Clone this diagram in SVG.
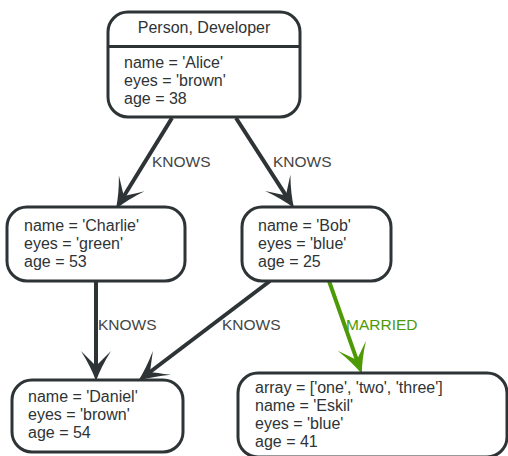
<svg xmlns="http://www.w3.org/2000/svg" width="508" height="456" viewBox="0 0 508 456">
  <style>
    .node { fill: #ffffff; stroke: #2e3436; stroke-width: 3; }
    .txt { font-family: "Liberation Sans", Arial, sans-serif; font-size: 16px; fill: #2e3436; }
    .lbl { font-family: "Liberation Sans", Arial, sans-serif; font-size: 15.5px; fill: #444444; }
    .lbl.green { fill: #4e9a06; }
    .edge { fill: none; stroke: #2e3436; stroke-width: 4; }
    .edge.green { stroke: #4e9a06; }
  </style>
  <defs>
    <marker id="arrow" markerUnits="userSpaceOnUse" viewBox="-32 -17 44 34" markerWidth="44" markerHeight="34" refX="-10" refY="0" orient="auto" overflow="visible">
      <path d="M0,0 Q-14,-5 -30,-15 Q-19,-4 -15,0 Q-19,4 -30,15 Q-14,5 0,0 Z" fill="#2e3436"/>
    </marker>
    <marker id="arrow-green" markerUnits="userSpaceOnUse" viewBox="-32 -17 44 34" markerWidth="44" markerHeight="34" refX="-10" refY="0" orient="auto" overflow="visible">
      <path d="M0,0 Q-14,-5 -30,-15 Q-19,-4 -15,0 Q-19,4 -30,15 Q-14,5 0,0 Z" fill="#4e9a06"/>
    </marker>
  </defs>

  <!-- relationships -->
  <g id="edges">
    <path class="edge" d="M172,118 L121.2,200.5" marker-end="url(#arrow)"/>
    <path class="edge" d="M236,118 L288.6,199.6" marker-end="url(#arrow)"/>
    <path class="edge" d="M96,281 L96,371" marker-end="url(#arrow)"/>
    <path class="edge" d="M270,281 L146,375" marker-end="url(#arrow)"/>
    <path class="edge green" d="M329,281 L358.5,364.6" marker-end="url(#arrow-green)"/>
    <text class="lbl" x="152" y="167">KNOWS</text>
    <text class="lbl" x="273" y="167">KNOWS</text>
    <text class="lbl" x="98" y="330">KNOWS</text>
    <text class="lbl" x="222" y="330">KNOWS</text>
    <text class="lbl green" x="346" y="330">MARRIED</text>
  </g>

  <!-- nodes -->
  <g id="alice">
    <rect class="node" x="108" y="12" width="192" height="105" rx="20"/>
    <line x1="108" y1="46.5" x2="300" y2="46.5" stroke="#2e3436" stroke-width="3"/>
    <text class="txt" x="204" y="33" text-anchor="middle">Person, Developer</text>
    <text class="txt" x="124" y="68">name = 'Alice'</text>
    <text class="txt" x="124" y="86">eyes = 'brown'</text>
    <text class="txt" x="124" y="104">age = 38</text>
  </g>

  <g id="charlie">
    <rect class="node" x="7" y="207" width="178" height="74" rx="20"/>
    <text class="txt" x="24" y="231">name = 'Charlie'</text>
    <text class="txt" x="24" y="249">eyes = 'green'</text>
    <text class="txt" x="24" y="267">age = 53</text>
  </g>

  <g id="bob">
    <rect class="node" x="242" y="207" width="149" height="74" rx="20"/>
    <text class="txt" x="258" y="231">name = 'Bob'</text>
    <text class="txt" x="258" y="249">eyes = 'blue'</text>
    <text class="txt" x="258" y="267">age = 25</text>
  </g>

  <g id="daniel">
    <rect class="node" x="12" y="380" width="171" height="72" rx="20"/>
    <text class="txt" x="28" y="402">name = 'Daniel'</text>
    <text class="txt" x="28" y="420">eyes = 'brown'</text>
    <text class="txt" x="28" y="438">age = 54</text>
  </g>

  <g id="eskil">
    <rect class="node" x="238" y="373" width="269" height="84" rx="20"/>
    <text class="txt" x="255" y="393">array = ['one', 'two', 'three']</text>
    <text class="txt" x="255" y="411">name = 'Eskil'</text>
    <text class="txt" x="255" y="429">eyes = 'blue'</text>
    <text class="txt" x="255" y="447">age = 41</text>
  </g>
</svg>
